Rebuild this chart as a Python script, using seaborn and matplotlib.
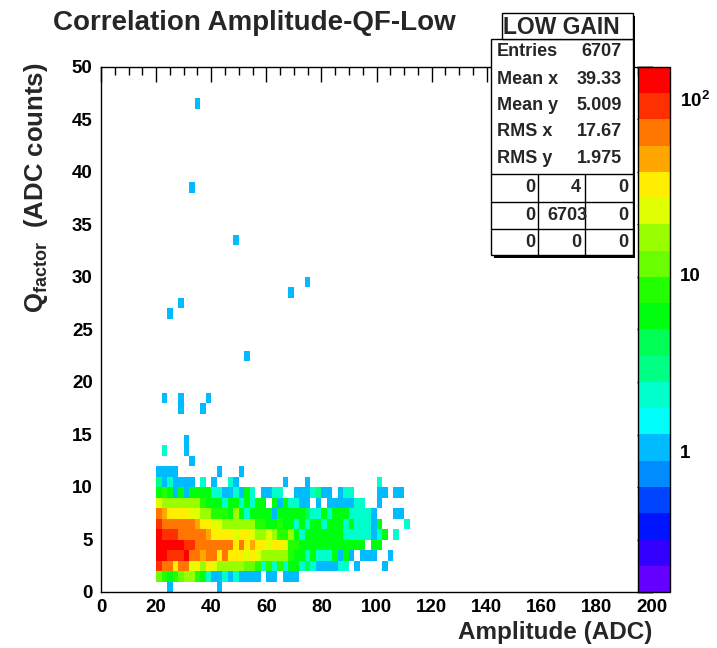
import colorsys
import numpy as np
import pandas as pd
import matplotlib
matplotlib.use("Agg")
import matplotlib.pyplot as plt
import seaborn as sns
from matplotlib.colors import ListedColormap, LogNorm
from matplotlib.patches import Rectangle
from matplotlib.lines import Line2D
from matplotlib.ticker import MultipleLocator, LogLocator, NullFormatter

# ---------------- texts ----------------
title = "Correlation Amplitude-QF-Low"
x_label = "Amplitude (ADC)"
y_label = r"Q$_{\rm factor}$  (ADC counts)"
stats_title = "LOW GAIN"
stats_labels = ["Entries", "Mean x", "Mean y", "RMS x", "RMS y"]
stats_values = ["6707", "39.33", "5.009", "17.67", "1.975"]
overflow_table = [["0", "4", "0"], ["0", "6703", "0"], ["0", "0", "0"]]

# ---------------- data ----------------
x_first = 20      # left edge of first populated Amplitude bin
x_width = 2       # Amplitude bin width
y_width = 1       # Q_factor bin width
# colour level read for each cell -> representative bin content
cell_counts = {".": 0, "a": 1, "b": 2, "c": 3, "d": 4, "e": 6, "f": 9, "g": 12,
               "h": 17, "i": 24, "j": 34, "k": 47, "l": 67, "m": 95, "n": 130}
# one string per Q_factor bin (0..13); one char per 2-ADC bin from 20 to 112
dense_rows = [
    "..a.." "....." ".a..." "....." "....." "....." "....." "....." "....." ".",
    "gfefg" "hhfeb" "aabab" "aaaa." "aa.aa" "a...." "....." "....." "....." ".",
    "mlljl" "lijhj" "ihhhh" "hggfb" "fbfbe" "ebdba" "aaabb" ".a..." ".a..." ".",
    "nnmmm" "nllkl" "ljljj" "jijih" "hhhhf" "eebeb" "bbeae" "a.aaa" "..a.." ".",
    "nnnnn" "mmlll" "llllj" "ljkjj" "ijjif" "feeee" "eeeee" "eee.e" "e...." ".",
    "nmmml" "llllk" "jjjji" "jjihh" "ihffh" "ebeee" "eeeeb" "bbbba" "be.b." ".",
    "mllll" "llkjj" "iihhh" "hhhff" "eefee" "bebee" "beeeb" "ebbba" "e...." "b",
    "lkjjj" "jiihh" "fffeh" "ebeee" "eaeee" "eedbb" "ebeee" "bbbba" "...aa" ".",
    "ihhhh" "hhhfe" "eebee" "bebee" ".eaeb" "baa.a" ".aaaa" "abb.." "a...." ".",
    "efeae" "aeeee" "bbaab" "aeb.a" "abb.." "aaabc" "aa.ab" "b...." "aa.aa" ".",
    "cabaa" "aa.b." "a..ba" "....." "...a." "..a.." "....." "....." "b...." ".",
    "aaaa." "....." ".a..." "a...." "....." "....." "....." "....." "....." ".",
    "....." ".a..." "....." "....." "....." "....." "....." "....." "....." ".",
    ".b..." "a...." "....." "....." "....." "....." "....." "....." "....." ".",
]
# isolated single-entry bins (lower edges)
single_x = [30, 36, 28, 22, 28, 38, 52, 24, 28, 68, 74, 48, 32, 34]
single_y = [14, 17, 17, 18, 18, 18, 22, 26, 27, 28, 29, 33, 38, 46]

z_min, z_max = 10 ** -0.8, 10 ** 2.18
cbar_ticks = [1, 10, 100]
cbar_ticklabels = ["1", "10", r"$10^{2}$"]

amp, qf, n = [], [], []
for yb, row in enumerate(dense_rows):
    for i, ch in enumerate(row):
        c = cell_counts[ch]
        if c > 0:
            amp.append(x_first + x_width * i + x_width / 2)
            qf.append(yb + y_width / 2)
            n.append(c)
for xv, yv in zip(single_x, single_y):
    amp.append(xv + x_width / 2)
    qf.append(yv + y_width / 2)
    n.append(1)
df = pd.DataFrame({"amp": amp, "qf": qf, "n": n})

# ROOT "pretty palette" sampled at 20 contour levels
root_hues = [263.2, 252.0, 235.2, 224.0, 207.2, 196.0, 179.2, 168.0, 151.2, 140.0,
             123.2, 112.0, 95.2, 84.0, 67.2, 56.0, 39.2, 28.0, 11.2, 0.0]
cmap = ListedColormap([colorsys.hls_to_rgb(h / 360.0, 0.5, 1.0) for h in root_hues])
norm = LogNorm(vmin=z_min, vmax=z_max)

# ---------------- style ----------------
sns.set_theme(style="white")
plt.rcParams["font.family"] = ["Liberation Sans", "DejaVu Sans"]
plt.rcParams["font.weight"] = "bold"
plt.rcParams["mathtext.fontset"] = "custom"
plt.rcParams["mathtext.rm"] = "Liberation Sans:bold"
plt.rcParams["mathtext.it"] = "Liberation Sans:bold"
plt.rcParams["mathtext.bf"] = "Liberation Sans:bold"

W, H = 717, 648
fig = plt.figure(figsize=(W / 100, H / 100), dpi=100)
fig.patch.set_facecolor("white")


def fx(p):
    return p / W


def fy(p):
    return 1 - p / H


ax_l, ax_r, ax_t, ax_b = 101, 652, 67, 592
ax = fig.add_axes([fx(ax_l), fy(ax_b), fx(ax_r - ax_l), (ax_b - ax_t) / H])

sns.histplot(data=df, x="amp", y="qf", weights="n", binwidth=(x_width, y_width),
             binrange=((0, 200), (0, 50)), cmap=cmap, ax=ax, cbar=False)
mesh = ax.collections[0]
mesh.set_norm(norm)

ax.set_xlim(0, 200)
ax.set_ylim(0, 50)
ax.set_xlabel("")
ax.set_ylabel("")
ax.set_facecolor("white")
ax.xaxis.set_major_locator(MultipleLocator(20))
ax.xaxis.set_minor_locator(MultipleLocator(5))
ax.yaxis.set_major_locator(MultipleLocator(5))
ax.yaxis.set_minor_locator(MultipleLocator(1))
ax.tick_params(which="both", direction="in", top=True, right=True, colors="black",
               width=1)
ax.tick_params(which="major", length=10.8, labelsize=13.5, pad=5)
ax.tick_params(which="minor", length=5.4)
ax.tick_params(axis="y", which="major", pad=6)
for lab in ax.get_xticklabels() + ax.get_yticklabels():
    lab.set_fontweight("bold")
for sp in ax.spines.values():
    sp.set_color("black")
    sp.set_linewidth(1)
    sp.set_visible(True)

# ---------------- palette ----------------
cax = fig.add_axes([fx(638), fy(ax_b), fx(32), (ax_b - ax_t) / H])
cb = fig.colorbar(mesh, cax=cax)
cb.outline.set_edgecolor("black")
cb.outline.set_linewidth(1)
cb.set_ticks(cbar_ticks, labels=cbar_ticklabels)
cax.yaxis.set_minor_locator(LogLocator(base=10, subs=np.arange(2, 10), numticks=20))
cax.yaxis.set_minor_formatter(NullFormatter())
cax.tick_params(which="both", direction="in", right=True, left=False, colors="black",
                width=1)
cax.tick_params(which="major", length=12, labelsize=13.5, pad=7)
cax.tick_params(which="minor", length=6.5)
for lab in cax.get_yticklabels():
    lab.set_fontweight("bold")

# ---------------- texts ----------------
fig.text(fx(53), fy(23), title, ha="left", va="center", fontsize=20, fontweight="bold")
fig.text(fx(ax_r), fy(633), x_label, ha="right", va="center", fontsize=17.5,
         fontweight="bold")
fig.text(fx(36), fy(62), y_label, ha="center", va="top", rotation=90, fontsize=18.5,
         fontweight="bold")

# ---------------- stats box ----------------
sh = 2.5


def box(x0, y0, x1, y1):
    fig.patches.append(Rectangle((fx(x0 + sh), fy(y1 + sh)), fx(x1 - x0), (y1 - y0) / H,
                                 transform=fig.transFigure, facecolor="black",
                                 edgecolor="none", zorder=5))
    fig.patches.append(Rectangle((fx(x0), fy(y1)), fx(x1 - x0), (y1 - y0) / H,
                                 transform=fig.transFigure, facecolor="white",
                                 edgecolor="black", linewidth=1, zorder=6))


box(491, 39.3, 632.7, 255)
box(501.7, 13.3, 632.7, 39.3)
fig.text(fx(561), fy(27), stats_title, ha="center", va="center", fontsize=16.5,
         fontweight="bold", zorder=7)
row_y = [52, 79, 105.5, 132, 158.5]
for lab, val, yy in zip(stats_labels, stats_values, row_y):
    fig.text(fx(497), fy(yy), lab, ha="left", va="center", fontsize=13,
             fontweight="bold", zorder=7)
    fig.text(fx(622), fy(yy), val, ha="right", va="center", fontsize=13,
             fontweight="bold", zorder=7)
for yy in [174, 201.7, 229]:
    fig.lines.append(Line2D([fx(491), fx(632.7)], [fy(yy), fy(yy)],
                            transform=fig.transFigure, color="black", linewidth=1,
                            zorder=7))
for xx in [538.3, 585]:
    fig.lines.append(Line2D([fx(xx), fx(xx)], [fy(174), fy(255)],
                            transform=fig.transFigure, color="black", linewidth=1,
                            zorder=7))
cell_right = [535, 581, 628]
table_y = [188, 215.5, 242.5]
for r, yy in enumerate(table_y):
    for c in range(3):
        txt = overflow_table[r][c]
        xr = cell_right[c] + (7 if len(txt) > 1 else 0)
        fig.text(fx(xr), fy(yy), txt, ha="right", va="center", fontsize=13,
                 fontweight="bold", zorder=7)

fig.savefig("out.png", dpi=100)
